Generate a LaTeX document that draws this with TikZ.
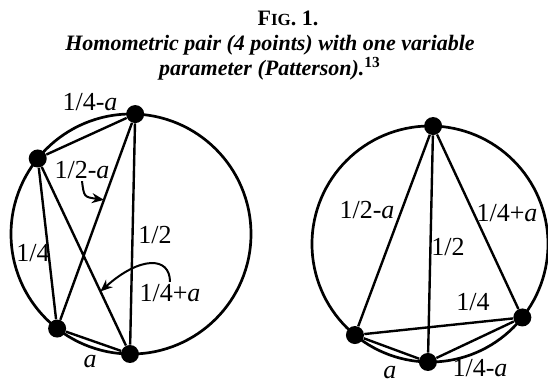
\documentclass[tikz,border=0pt]{standalone}
\usepackage{fontspec}
\setmainfont{Liberation Serif}
\usetikzlibrary{arrows.meta,calc}
\newcommand{\va}{\textit{a}}

\begin{document}
\begin{tikzpicture}[x=0.5pt, y=-0.5pt, >={Stealth[length=6pt,width=5pt]},
  dot/.style={circle, fill, inner sep=0pt, minimum size=9pt},
  chord/.style={line width=1.2pt},
  lab/.style={font=\fontsize{13}{13}\selectfont, inner sep=1pt}]
\useasboundingbox (0,0) rectangle (548,385);
% caption
\node[font=\bfseries\fontsize{11}{11}\selectfont] (fig) at (288,18) {F{\fontsize{8.5}{8.5}\selectfont IG}. 1.};
\node[font=\bfseries\itshape\fontsize{11}{10.5}\selectfont, align=center] (cap) at (270,58) {Homometric pair (4 points) with one variable\\ parameter (Patterson).\textsuperscript{\upshape 13}};

% left set
\coordinate (Lc) at (131,234);
\draw[line width=1.35pt] (Lc) circle[radius=120];
\node[dot] (A) at ($(Lc)+(-88:120)$) {};
\node[dot] (B) at ($(Lc)+(-141:120)$) {};
\node[dot] (C) at ($(Lc)+(128:120)$) {};
\node[dot] (D) at ($(Lc)+(90.5:120)$) {};
\draw[chord] (A) -- (B) -- (C) -- (D) -- (A) -- (C) (B) -- (D);
\node[lab] (l14ma) at (90,102) {1/4-\va};
\node[lab] (l12ma) at (82,170) {1/2-\va};
\node[lab] (l12) at (155,235) {1/2};
\node[lab] (l14) at (33,253) {1/4};
\node[lab] (l14pa) at (170,293) {1/4+\va};
\node[lab] (la) at (90,362) {\va};
\coordinate (p1) at ($(A)!0.4!(C)$);
\coordinate (p2) at ($(B)!0.68!(D)$);
\draw[->, line width=1pt] (l12ma.south) .. controls (84,197) .. (p1);
\draw[->, line width=1pt] (l14pa.north) .. controls (170,256) and (140,256) .. (p2);

% right set
\coordinate (Rc) at (430,244);
\draw[line width=1.35pt] (Rc) circle[radius=118];
\node[dot] (E) at ($(Rc)+(-88.5:118)$) {};
\node[dot] (F) at ($(Rc)+(129.5:118)$) {};
\node[dot] (G) at ($(Rc)+(91:118)$) {};
\node[dot] (H) at ($(Rc)+(38.5:118)$) {};
\draw[chord] (E) -- (F) -- (G) -- (H) -- (E) -- (G) (F) -- (H);
\node[lab] (r12ma) at (367,210) {1/2-\va};
\node[lab] (r14pa) at (507,213) {1/4+\va};
\node[lab] (r12) at (448,247) {1/2};
\node[lab] (r14) at (473,302) {1/4};
\node[lab] (ra) at (390,373) {\va};
\node[lab] (r14ma) at (480,368) {1/4-\va};
\end{tikzpicture}
\end{document}
